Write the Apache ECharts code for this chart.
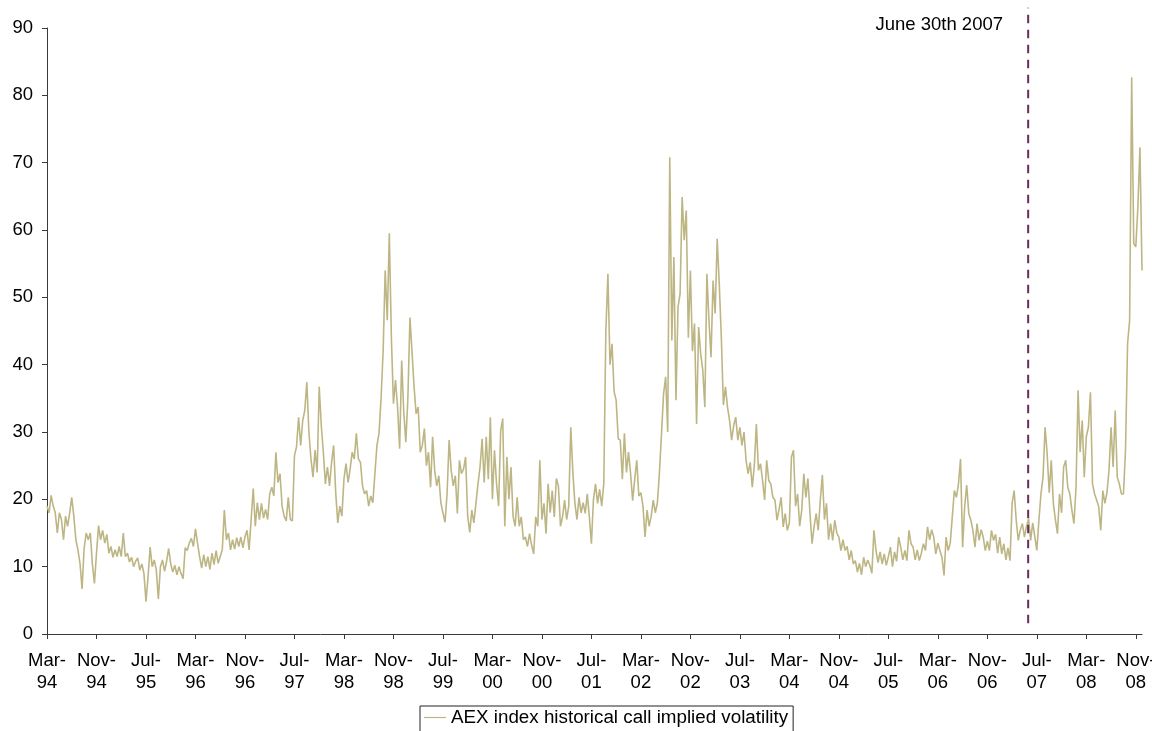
<!DOCTYPE html>
<html>
<head>
<meta charset="utf-8">
<title>AEX index historical call implied volatility</title>
<script src="https://cdn.jsdelivr.net/npm/echarts@6/dist/echarts.min.js"></script>
<style>
  html, body { margin: 0; padding: 0; background: #ffffff; }
  #chart { width: 1152px; height: 731px; }
</style>
</head>
<body>
<div id="chart"></div>
<script>
// Axis tick labels, one every eight months starting March 1994
const tickLabels = [
  'Mar-\n94', 'Nov-\n94', 'Jul-\n95', 'Mar-\n96', 'Nov-\n96', 'Jul-\n97',
  'Mar-\n98', 'Nov-\n98', 'Jul-\n99', 'Mar-\n00', 'Nov-\n00', 'Jul-\n01',
  'Mar-\n02', 'Nov-\n02', 'Jul-\n03', 'Mar-\n04', 'Nov-\n04', 'Jul-\n05',
  'Mar-\n06', 'Nov-\n06', 'Jul-\n07', 'Mar-\n08', 'Nov-\n08'
];
const monthsPerTick = 8;

// Implied volatility (%), three observations per month from March 1994,
// one row per eight-month tick interval
const obsPerMonth = 3;
const impliedVol = [
  19, 18, 20.6, 19, 18, 15, 18, 17, 14, 17.5, 16, 18, 20.3, 17.5, 14, 12.5, 10.5, 6.7, 12.7, 15, 14, 15, 10.4, 7.5,
  12, 16.1, 14, 15.4, 13.5, 14.8, 12, 13, 11.4, 12.5, 11.5, 13, 11.5, 15, 11.5, 12, 10.7, 11.4, 10, 10.8, 11.3, 9.5, 10.4, 9,
  4.8, 8.5, 12.9, 10, 11, 9.5, 5.2, 10, 11, 9.3, 10.8, 12.7, 10.4, 9.2, 10.2, 8.8, 10, 9, 8.2, 12.8, 12.4, 13.5, 14.2, 13,
  15.6, 13.5, 11.5, 9.8, 11.8, 10, 11.5, 9.6, 12, 10.3, 12.4, 10.5, 11.5, 12.5, 18.4, 14, 15, 12.5, 14, 12.6, 14.3, 13, 14.4, 12.8,
  14.4, 15.4, 12.5, 17, 21.6, 16, 19.5, 17, 19.4, 17.2, 18.5, 17, 20.8, 21.8, 20.5, 27, 22.5, 23.8, 19, 17.5, 16.8, 20.3, 17, 16.8,
  26.5, 27.8, 32.2, 28, 31.7, 33.2, 37.4, 30, 26, 23.3, 27.3, 24, 36.7, 31, 27, 22.3, 24.8, 22, 25.5, 28, 21, 16.5, 19, 17.5,
  23, 25.3, 22.5, 24.5, 27, 26, 29.8, 26, 25.5, 22, 20.8, 21.3, 19, 20.5, 19.5, 23.8, 28, 29.8, 35, 42, 54, 46.6, 59.5, 44,
  34.2, 37.7, 33.7, 27.5, 40.6, 33, 28.5, 35, 47, 42, 36.7, 32.7, 33.7, 27, 28, 30.5, 25, 27, 21.8, 29.3, 24.3, 22, 23.5, 19.5,
  18, 16.6, 20.8, 28.8, 24.3, 22, 23.5, 17.9, 25.8, 23.8, 24.5, 26.3, 17.5, 15.1, 18.4, 16.5, 19.4, 22.3, 24.8, 29, 22.5, 29.3, 23, 32.2,
  20, 27.3, 22.3, 19, 30.2, 32, 16, 26.3, 20, 24.8, 17.5, 16, 20.3, 16, 17.4, 14, 14.4, 13, 14.9, 13.2, 11.9, 17.4, 16, 25.8,
  17, 19.4, 14.9, 22.3, 18, 21.3, 17.4, 23.1, 22, 16, 17.4, 19.9, 17, 19, 30.7, 24, 19.4, 17, 20.3, 18, 19.5, 17.9, 20.8, 17.4,
  13.4, 20, 22.3, 19.4, 21.5, 19, 22.3, 45, 53.5, 40, 43.1, 36, 34.7, 29, 28.8, 23, 29.8, 24, 27, 23.8, 19.8, 23, 25.8, 20.5,
  21, 19, 14.4, 18.4, 16, 17.5, 19.9, 18, 19.5, 24, 29.8, 35.7, 38.2, 30, 70.8, 43.6, 56, 34.7, 48.6, 50.5, 64.9, 58.5, 62.9, 44,
  54, 42, 46.1, 31.2, 45.6, 41.6, 39.2, 33.7, 53.5, 46.6, 41.1, 52.5, 47.6, 58.7, 52, 44.1, 34, 36.7, 33.7, 31.7, 28.8, 31, 32.2, 28.8,
  30.7, 28, 30, 25.8, 23.8, 25.5, 21.8, 25, 31.2, 24.3, 25.3, 22.8, 19.9, 25.8, 22.8, 22.3, 20.3, 19.9, 16.9, 18.5, 20.3, 15.9, 17.9, 15.4,
  16.5, 26.3, 27.3, 19, 20.8, 16, 18.4, 23.8, 20.3, 23.1, 17.9, 13.4, 16, 17.9, 15.4, 19.9, 23.6, 17, 19.4, 14, 16.4, 13.9, 16.9, 15,
  14.4, 12.4, 14, 12.4, 13, 11, 12.4, 10.4, 10.9, 9.2, 10.5, 8.8, 11.4, 10, 11, 10.2, 9, 15.4, 12.4, 10.6, 12.2, 10.4, 11.9, 10.2,
  11.5, 12.9, 10, 12.2, 10.8, 14.4, 12.9, 11, 12.4, 10.9, 15.4, 13.4, 12.9, 11, 12.5, 10.9, 12, 13.4, 12.4, 15.9, 14, 15.5, 14.4, 11.9,
  13.5, 12.4, 11.4, 8.7, 14.4, 12.4, 13.5, 17.4, 21.3, 20.3, 22.3, 26, 12.9, 18.9, 22.1, 17.9, 16.9, 15.4, 12.9, 16.4, 13.9, 15.5, 14.4, 12.4,
  13.8, 12.4, 15.4, 13.9, 14.8, 12, 14.4, 11.9, 13.4, 11, 12.8, 10.9, 19.4, 21.3, 16.9, 13.9, 15.5, 16.4, 14.4, 16, 17.1, 13.9, 16.5, 14.5,
  12.4, 16.9, 20.8, 23.3, 30.7, 26.8, 21, 25.8, 19.4, 17, 14.9, 20.8, 18, 24.8, 25.8, 21.8, 20.8, 18.4, 16.4, 21.8, 36.2, 27, 31.7, 23.3,
  29.3, 30.7, 35.9, 22.3, 20.8, 19.9, 18.9, 15.4, 21.3, 19.4, 21, 24.3, 30.7, 24.8, 33.2, 23.3, 22.3, 20.8, 20.8, 27.3, 43.1, 46.6, 82.7, 58,
  57.5, 63.4, 72.3, 54
];

// Cut-off marker (position in months from March 1994) and its span in vol points
const cutoffMonth = 158.6;
const cutoffSpan = [1.6, 93];
const cutoffLabel = 'June 30th 2007';
const seriesName = 'AEX index historical call implied volatility';

const FONT = 'Liberation Sans, Arial, Helvetica, sans-serif';
const AXIS_COLOR = '#3a3a3a';
const LINE_COLOR = '#BDB684';

const volPoints = impliedVol.map((v, i) => [i / obsPerMonth, v]);
const lastMonth = (impliedVol.length - 1) / obsPerMonth;
const tickMonths = tickLabels.map((_, k) => k * monthsPerTick);

const chart = echarts.init(document.getElementById('chart'), null, { renderer: 'canvas' });

chart.setOption({
  animation: false,
  backgroundColor: '#ffffff',
  textStyle: { fontFamily: FONT },
  grid: {
    left: 47, right: 10, top: 28, bottom: 97,
    containLabel: false,
    outerBoundsMode: 'none'
  },
  xAxis: {
    type: 'value',
    min: 0,
    max: lastMonth,
    interval: monthsPerTick,
    splitLine: { show: false },
    axisLine: { show: true, onZero: false, lineStyle: { color: AXIS_COLOR, width: 1 } },
    axisTick: {
      show: true, inside: false, length: 5,
      customValues: tickMonths,
      lineStyle: { color: AXIS_COLOR, width: 1 }
    },
    axisLabel: {
      show: true,
      customValues: tickMonths,
      margin: 16,
      color: '#000',
      fontSize: 18.5,
      lineHeight: 22,
      fontFamily: FONT,
      align: 'center',
      hideOverlap: false,
      formatter: (v) => tickLabels[Math.round(v / monthsPerTick)] || ''
    }
  },
  yAxis: {
    type: 'value',
    min: 0,
    max: 90,
    interval: 10,
    splitLine: { show: false },
    axisLine: { show: true, lineStyle: { color: AXIS_COLOR, width: 1 } },
    axisTick: { show: true, inside: false, length: 5, lineStyle: { color: AXIS_COLOR, width: 1 } },
    axisLabel: { margin: 14, color: '#000', fontSize: 18.5, fontFamily: FONT }
  },
  legend: {
    data: [seriesName],
    icon: 'rect',
    left: 420,
    top: 706,
    padding: [2, 5, 8, 4],
    itemWidth: 22,
    itemHeight: 1.2,
    itemGap: 5,
    borderColor: '#222',
    borderWidth: 1,
    borderRadius: 0,
    selectedMode: false,
    textStyle: { color: '#000', fontSize: 18.8, fontFamily: FONT }
  },
  graphic: [{
    type: 'text',
    right: 149,
    top: 15,
    style: { text: cutoffLabel, fill: '#000', fontSize: 18.5, fontFamily: FONT }
  }],
  series: [
    {
      name: seriesName,
      type: 'line',
      data: volPoints,
      symbol: 'none',
      showSymbol: false,
      lineStyle: { color: LINE_COLOR, width: 1.6 },
      itemStyle: { color: LINE_COLOR },
      z: 2
    },
    {
      name: 'cutoff',
      type: 'line',
      data: cutoffSpan.map((v) => [cutoffMonth, v]),
      symbol: 'none',
      silent: true,
      clip: false,
      lineStyle: { color: '#6A2C5E', width: 2, type: [8.5, 6.5] },
      z: 3
    }
  ]
});
</script>
</body>
</html>
